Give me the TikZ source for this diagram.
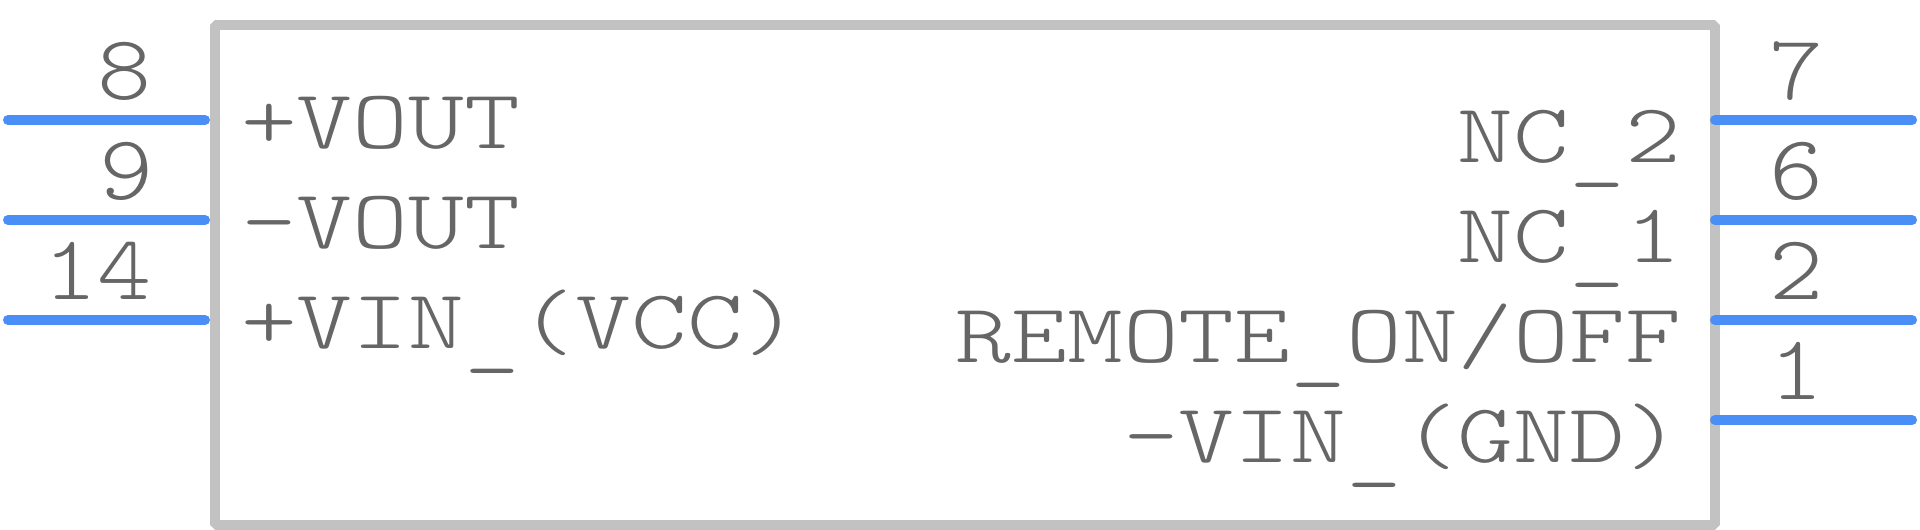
\documentclass[tikz,border=0pt]{standalone}
\usepackage{fontspec}
\setmainfont{lmmonolt10-regular.otf}[FakeStretch=1.265]
\newfontfamily\numfont{lmmonolt10-regular.otf}[FakeStretch=1.12]
\newcommand\us{\raisebox{-10pt}{\_}}
\definecolor{txt}{HTML}{666666}
\definecolor{body}{HTML}{C2C2C2}
\definecolor{pinc}{HTML}{4A8FF5}
\begin{document}
\begin{tikzpicture}[x=1pt,y=-1pt,
  lbl/.style={inner sep=0pt,outer sep=0pt,text=txt,font=\fontsize{84}{90}\selectfont},
  num/.style={inner sep=0pt,outer sep=0pt,text=txt,font=\numfont\fontsize{92}{100}\selectfont},
  pinline/.style={draw=pinc,line width=10pt,line cap=round},
  bodybox/.style={draw=body,line width=10pt,line join=bevel}]
\useasboundingbox (0,0) rectangle (1920,530);
\node[bodybox,minimum width=1500pt,minimum height=500pt,anchor=north west,inner sep=0pt] (box) at (210,20) {};
% pin endpoints
\coordinate (l8a) at (8,120);  \coordinate (l8b) at (205,120);
\coordinate (l9a) at (8,220);  \coordinate (l9b) at (205,220);
\coordinate (l14a) at (8,320); \coordinate (l14b) at (205,320);
\coordinate (r7a) at (1715,120); \coordinate (r7b) at (1912,120);
\coordinate (r6a) at (1715,220); \coordinate (r6b) at (1912,220);
\coordinate (r2a) at (1715,320); \coordinate (r2b) at (1912,320);
\coordinate (r1a) at (1715,420); \coordinate (r1b) at (1912,420);
\draw[pinline] (l8a) -- (l8b);
\draw[pinline] (l9a) -- (l9b);
\draw[pinline] (l14a) -- (l14b);
\draw[pinline] (r7a) -- (r7b);
\draw[pinline] (r6a) -- (r6b);
\draw[pinline] (r2a) -- (r2b);
\draw[pinline] (r1a) -- (r1b);
% pin numbers
\node[num,anchor=base east] (n8) at (152,99) {8};
\node[num,anchor=base east] (n9) at (154,199) {9};
\node[num,anchor=base east] (n14) at (152,299) {14};
\node[num,anchor=base] (n7) at (1797,99) {7};
\node[num,anchor=base] (n6) at (1797,199) {6};
\node[num,anchor=base] (n2) at (1797,299) {2};
\node[num,anchor=base] (n1) at (1797,399) {1};
% pin names
\node[lbl,anchor=base west] (pvout) at (241,148) {+VOUT};
\node[lbl,anchor=base west] (mvout) at (241,248) {-VOUT};
\node[lbl,anchor=base west] (pvin) at (241,348) {+VIN\us(VCC)};
\node[lbl,anchor=base east] (nc2) at (1681,162) {NC\us2};
\node[lbl,anchor=base east] (nc1) at (1681,262) {NC\us1};
\node[lbl,anchor=base east] (rem) at (1681,362) {REMOTE\us ON/OFF};
\node[lbl,anchor=base east] (mvin) at (1681,462) {-VIN\us(GND)};
\end{tikzpicture}
\end{document}
